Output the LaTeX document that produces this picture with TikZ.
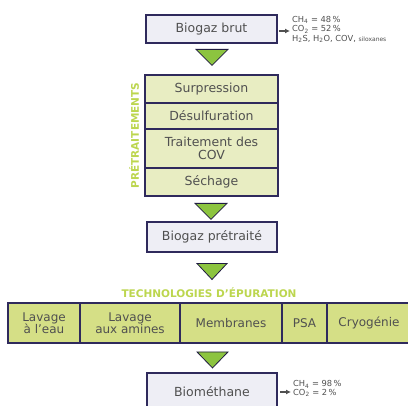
\documentclass[tikz,border=0pt]{standalone}
\usepackage{fontspec}
\setmainfont{DejaVu Sans}
\usetikzlibrary{shapes.geometric,arrows.meta}
\definecolor{navy}{HTML}{2F2A5C}
\definecolor{boxgrey}{HTML}{EEEEF5}
\definecolor{paleg}{HTML}{E8EDC2}
\definecolor{rowg}{HTML}{D5DF86}
\definecolor{arrg}{HTML}{8CC43F}
\definecolor{labg}{HTML}{BCD64E}
\definecolor{txt}{HTML}{505050}
\tikzset{
  gasbox/.style={draw=navy, line width=1.8pt, fill=boxgrey, text=txt, font=\fontsize{12.5}{14}\selectfont, inner sep=0pt, minimum width=131pt, align=center},
  prebox/.style={draw=navy, line width=1.5pt, fill=paleg, text=txt, font=\fontsize{12.5}{13.5}\selectfont, inner sep=0pt, minimum width=133pt, align=center},
  rowbox/.style={draw=navy, line width=1.5pt, fill=rowg, text=txt, font=\fontsize{12}{12.5}\selectfont, inner sep=0pt, minimum height=40pt, align=center},
  downtri/.style={draw=navy!70!black, line width=0.8pt, fill=arrg, isosceles triangle, shape border rotate=-90, isosceles triangle stretches, minimum width=32pt, minimum height=16pt, inner sep=0pt},
  note/.style={text=txt, font=\fontsize{8.3}{9.5}\selectfont, align=left, anchor=west, inner sep=0pt},
  greenlab/.style={text=labg, font=\bfseries\fontsize{10.5}{11}\selectfont, inner sep=0pt},
  notearrow/.style={-{Latex[length=5pt,width=5pt]}, line width=1.3pt, draw=txt}
}
\begin{document}
\begin{tikzpicture}[x=1pt,y=-1pt]
\useasboundingbox[fill=white] (0,0) rectangle (408,406);
% top
\node[gasbox, minimum height=28pt] (brut) at (211.5,29) {Biogaz brut};
\node[downtri] (t1) at (212,56) {};
\node[note] (n1) at (292,29.5) {CH\textsubscript{4} = 48\,\%\\ CO\textsubscript{2} = 52\,\%\\ H\textsubscript{2}S, H\textsubscript{2}O, COV, {\fontsize{6}{6}\selectfont siloxanes}};
\coordinate (a1) at (279,31);
\coordinate (n1w) at (290,31);
\draw[notearrow] (a1) -- (n1w);
% pretraitements
\node[prebox, minimum height=28pt] (surp) at (211.5,89) {Surpression};
\node[prebox, minimum height=26pt] (desu) at (211.5,116) {Désulfuration};
\node[prebox, minimum height=39pt] (trai) at (211.5,148.5) {Traitement des\\COV};
\node[prebox, minimum height=28pt] (sech) at (211.5,182) {Séchage};
\node[greenlab, rotate=90] (pre) at (134,135.5) {PRÉTRAITEMENTS};
\node[downtri] (t2) at (211,210) {};
% pretraite
\node[gasbox, minimum height=30pt, minimum width=130pt] (ptr) at (212,237) {Biogaz prétraité};
\node[downtri, minimum width=30pt] (t3) at (212,270) {};
\node[greenlab] (tech) at (209,293) {TECHNOLOGIES D'ÉPURATION};
% row
\node[rowbox, minimum width=72pt] (eau) at (44,323) {Lavage\\à l'eau};
\node[rowbox, minimum width=100pt] (ami) at (130,323) {Lavage\\aux amines};
\node[rowbox, minimum width=102pt] (mem) at (231,323) {Membranes};
\node[rowbox, minimum width=45pt] (psa) at (304.5,323) {PSA};
\node[rowbox, minimum width=84pt] (cry) at (369,323) {Cryogénie};
\node[downtri, minimum width=31pt] (t4) at (212.5,358.5) {};
% biomethane
\node[gasbox, minimum height=38pt, minimum width=130pt] (bio) at (212,392) {Biométhane};
\node[note] (n2) at (293,388.5) {CH\textsubscript{4} = 98\,\%\\[-1pt] CO\textsubscript{2} = 2\,\%};
\coordinate (a2) at (280,392);
\coordinate (n2w) at (291,392);
\draw[notearrow] (a2) -- (n2w);
\end{tikzpicture}
\end{document}
